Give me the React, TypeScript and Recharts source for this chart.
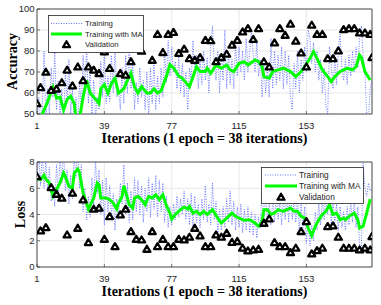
import React from 'react';
import { LineChart, Line, XAxis, YAxis, CartesianGrid, ReferenceArea } from 'recharts';

// ---------- axis ticks ----------
const xTicks = [1, 39, 77, 115, 153];
const accTicks = [50, 60, 70, 80, 90, 100];
const lossTicks = [0, 2, 4, 6, 8];

// ---------- accuracy ----------
const accTraining = [
  45, 58, 48, 52, 80, 46, 62, 50, 72, 58,
  80, 52, 66, 48, 62, 45, 70, 55, 76, 50,
  62, 45, 58, 44, 65, 52, 78, 60, 82, 55,
  72, 50, 66, 48, 58, 52, 75, 58, 82, 55,
  68, 56, 78, 60, 82, 58, 62, 52, 72, 55,
  78, 60, 84, 62, 75, 52, 65, 55, 72, 58,
  66, 52, 70, 48, 72, 55, 76, 52, 68, 55,
  72, 58, 80, 65, 85, 68, 82, 70, 75, 62,
  78, 60, 74, 58, 70, 52, 72, 66, 85, 70,
  78, 62, 76, 64, 80, 66, 77, 60, 82, 92,
  74, 66, 80, 60, 78, 66, 90, 62, 80, 64,
  76, 62, 85, 68, 82, 70, 80, 66, 86, 70,
  80, 90, 78, 70, 84, 68, 76, 58, 74, 60,
  72, 58, 86, 62, 80, 64, 78, 66, 82, 62,
  80, 64, 78, 58, 52, 74, 62, 80, 60, 76,
  66, 82, 70, 90, 86, 74, 84, 70, 80, 66,
  76, 60, 72, 54, 50, 82, 74, 62, 78, 64,
  80, 88, 72, 66, 76, 64, 78, 68, 80, 70,
  82, 72, 86, 92, 78, 70, 50, 48, 62, 66,
];
const accMaIter = [1, 4, 7, 10, 12, 14, 16, 18, 20, 22, 23, 25, 27, 29, 31, 34, 36, 37, 39, 41, 43, 45, 47, 50, 52, 54, 56, 58, 60, 63, 65, 67, 69, 71, 74, 76, 78, 81, 83, 86, 87, 91, 93, 96, 97, 99, 102, 105, 108, 110, 112, 115, 118, 120, 124, 126, 128, 129, 132, 134, 137, 140, 142, 144, 147, 150, 152, 155, 157, 159, 162, 165, 167, 169, 172, 174, 176, 179, 181, 183, 184, 186, 189];
const accMaValue = [47, 50, 55.9, 62.7, 57.5, 58, 52, 57, 58.5, 55, 48, 48, 58, 66, 60, 57, 55, 62, 64, 60, 64.5, 67, 60, 62, 66, 69.5, 63, 60, 63, 60, 60, 62, 60, 61, 68, 73.5, 72, 68, 67, 64, 63, 72.5, 70.2, 70.2, 71.8, 69.4, 73.3, 71.8, 73.3, 71, 70.2, 74.1, 74.9, 73.3, 75.7, 74.9, 72.5, 67.8, 67, 70.2, 71, 71.8, 71, 70.2, 67.8, 70.2, 72.5, 76.5, 79.7, 76.5, 71, 67.8, 65.4, 67.8, 70.2, 71, 71.8, 71, 72.5, 78.1, 77, 70.2, 66.2];

const valIter = [1, 3, 6, 9, 12, 15, 18, 21, 24, 27, 30, 33, 36, 39, 42, 45, 48, 51, 54, 57, 60, 63, 66, 69, 72, 75, 78, 81, 84, 87, 90, 93, 96, 99, 102, 105, 108, 111, 114, 117, 120, 123, 126, 129, 132, 135, 138, 141, 144, 147, 150, 153, 156, 159, 162, 165, 168, 171, 174, 177, 180, 183, 186, 189, 190];
const accValidation = [55, 62.7, 70, 61.4, 62, 65, 71, 63.5, 72.5, 66, 72.5, 71, 69.4, 79.7, 71.8, 86, 69.4, 68.6, 75, 88, 80, null, 75.7, 88, 79.4, 88, 89, 79, 81, 76.5, 75.7, 77, 85.2, 85, 75, 77, 78.6, 82.9, 85.2, 89.2, 90.8, 85.6, 90.8, 75, 72.5, 84, 90.8, 87.6, 92.9, 84.8, 79.2, 72.5, 92.4, 88, 88, 76.5, 76.5, 80.2, 90.3, 90.8, 90.8, 88.7, 88.7, 88, 77];

// ---------- loss ----------
const lossTraining = [
  7.0, 8.5, 6.2, 8.8, 6.0, 8.2, 5.8, 7.6, 5.0, 6.2,
  4.6, 7.8, 5.2, 8.5, 6.4, 9.0, 5.8, 7.4, 4.8, 7.0,
  5.2, 8.6, 6.8, 9.2, 6.0, 7.8, 4.2, 6.0, 3.6, 5.4,
  3.8, 6.8, 4.6, 8.2, 5.6, 7.4, 4.0, 6.6, 3.2, 6.8,
  4.2, 6.2, 3.8, 5.6, 2.8, 5.2, 3.6, 6.4, 4.8, 7.8,
  4.0, 6.4, 3.4, 5.8, 3.6, 6.8, 4.2, 6.6, 4.0, 6.2,
  3.4, 6.0, 4.2, 6.8, 3.8, 6.4, 4.4, 7.0, 3.8, 6.6,
  4.2, 6.4, 3.4, 5.4, 3.0, 4.6, 3.2, 4.8, 3.6, 5.4,
  3.8, 5.2, 4.0, 5.8, 3.6, 5.2, 3.2, 5.6, 3.0, 5.4,
  3.4, 4.8, 3.0, 5.2, 3.6, 6.2, 3.4, 4.8, 3.2, 6.4,
  3.6, 5.0, 2.6, 4.4, 2.8, 4.6, 3.0, 5.2, 3.4, 5.8,
  3.2, 5.0, 2.8, 4.6, 3.0, 4.8, 2.6, 4.4, 2.8, 4.6,
  2.6, 4.2, 2.4, 4.0, 2.2, 3.8, 3.0, 5.8, 3.6, 5.4,
  3.4, 5.0, 3.2, 5.2, 3.4, 5.6, 3.6, 5.0, 3.2, 5.4,
  3.6, 5.6, 3.4, 6.0, 3.6, 5.2, 3.4, 5.4, 2.6, 4.8,
  3.0, 4.6, 1.8, 3.6, 1.6, 3.2, 2.0, 4.2, 2.8, 4.8,
  3.2, 5.2, 3.6, 5.6, 4.0, 6.4, 3.2, 5.0, 3.4, 4.8,
  2.8, 4.6, 3.0, 4.2, 2.8, 4.6, 3.2, 5.0, 3.4, 5.2,
  3.0, 4.6, 1.6, 1.3, 7.9, 6.0, 5.4, 6.4, 5.8, 6.0,
];
const lossMaIter = [1, 3, 5, 6, 8, 10, 12, 14, 16, 17, 19, 21, 22, 24, 25, 27, 30, 33, 35, 36, 37, 40, 42, 44, 46, 47, 49, 50, 52, 53, 55, 56, 58, 60, 62, 64, 66, 68, 70, 72, 74, 76, 77, 79, 82, 84, 86, 87, 89, 91, 93, 95, 97, 100, 103, 105, 108, 111, 113, 115, 118, 121, 124, 126, 128, 129, 131, 133, 135, 137, 140, 142, 144, 146, 148, 150, 152, 154, 156, 158, 160, 162, 164, 166, 168, 170, 172, 174, 175, 177, 180, 182, 183, 185, 187, 189];
const lossMaValue = [6.7, 6.65, 7.0, 6.7, 6.4, 5.4, 5.9, 6.4, 7.16, 6.9, 6.15, 6.0, 7.16, 7.47, 7.16, 5.64, 4.42, 5.26, 6.4, 6.27, 5.26, 5.26, 5.13, 4.88, 4.42, 4.88, 5.38, 6.2, 5.26, 4.75, 4.5, 5.26, 5.38, 5.13, 4.75, 5.38, 5.26, 5.5, 5.13, 5.5, 4.67, 4.11, 3.66, 4.0, 4.37, 4.57, 4.42, 4.62, 4.11, 4.24, 4.0, 4.24, 4.0, 4.37, 3.73, 3.35, 3.73, 4.11, 3.86, 3.73, 3.56, 3.6, 3.35, 3.1, 3.48, 4.37, 4.37, 4.0, 4.11, 4.37, 4.24, 4.37, 4.5, 4.24, 4.24, 3.86, 3.73, 2.97, 2.39, 3.1, 3.6, 4.0, 4.24, 4.75, 4.0, 4.11, 3.6, 3.73, 3.6, 3.86, 4.11, 3.6, 2.97, 3.1, 4.11, 5.18];
const lossValidation = [6.9, 2.77, 3.02, 6.07, 5.56, 5.26, 2.46, 5.64, 2.97, 5.13, 1.88, 4.42, 4.5, 2.13, 3.86, 1.57, 3.99, 4.42, 2.72, 2.13, 2.08, 1.37, 2.72, 1.57, 2.13, 1.57, 1.57, 2.13, 2.08, 2.29, 2.97, 2.39, 1.57, 1.57, 2.46, 2.29, 2.59, 1.9, 1.96, 1.45, 1.24, 1.32, 1.37, 3.35, 3.68, 1.88, 1.57, 1.57, 1.12, 1.45, 2.72, 3.48, 1.02, 1.27, 1.45, 3.1, 3.15, 2.29, 1.45, 1.45, 1.45, 1.32, 1.45, 1.32, 2.34];

// ---------- table builder ----------
type Row = { x: number; train: number; ma: number | null; val: number | null };
function buildTable(training: number[], maIter: number[], maValue: number[], vIter: number[], vValue: (number | null)[]): Row[] {
  const rows: Row[] = training.map((t, i) => ({ x: i + 1, train: t, ma: null, val: null }));
  maIter.forEach((it, k) => { rows[it - 1].ma = maValue[k]; });
  vIter.forEach((it, k) => { rows[it - 1].val = vValue[k]; });
  return rows;
}
const accTable = buildTable(accTraining, accMaIter, accMaValue, valIter, accValidation);
const lossTable = buildTable(lossTraining, lossMaIter, lossMaValue, valIter, lossValidation);

const BLUE = '#3a4dff';
const GREEN = '#00ff00';
const AXIS = '#262626';
const SANS = '"Liberation Sans", Arial, sans-serif';
const SERIF = '"Liberation Serif", "Times New Roman", serif';

const Tri = (p: any) => {
  const { cx, cy, value, index } = p;
  if (value == null || cx == null || cy == null || Number.isNaN(cy)) return <g key={`t${index}`} />;
  const h = 3.2;
  return (
    <path
      key={`t${index}`}
      d={`M${cx},${cy - h} L${cx + h * 1.1},${cy + h * 0.85} L${cx - h * 1.1},${cy + h * 0.85} Z`}
      fill="#ffffff"
      stroke="#000"
      strokeWidth={2.3}
      strokeLinejoin="round"
    />
  );
};

const XTitle = (p: any) => {
  const vb = p.viewBox || { x: 0, y: 0, width: 0, height: 0 };
  return (
    <text x={vb.x + vb.width / 2} y={vb.y + 29} textAnchor="middle" fill="#000"
      style={{ fontFamily: SERIF, fontWeight: 'bold', fontSize: 14 }}>
      Iterations (1 epoch = 38 iterations)
    </text>
  );
};

const YTitle = (p: any) => {
  const vb = p.viewBox || { x: 0, y: 0, width: 0, height: 0 };
  const cx = vb.x + p.dx0;
  const cy = vb.y + vb.height / 2;
  return (
    <text x={cx} y={cy} transform={`rotate(-90 ${cx} ${cy})`} textAnchor="middle" dominantBaseline="central" fill="#000"
      style={{ fontFamily: SERIF, fontWeight: 'bold', fontSize: 14 }}>
      {p.text}
    </text>
  );
};

function LegendBox({ left, top, w, h, fs, rows, x1, x2, tx }: any) {
  return (
    <svg width={w} height={h} style={{ position: 'absolute', left, top, display: 'block' }}>
      <rect x={0.5} y={0.5} width={w - 1} height={h - 1} fill="#fff" stroke={AXIS} strokeWidth={0.8} />
      <line x1={x1} x2={x2} y1={rows[0]} y2={rows[0]} stroke={BLUE} strokeWidth={0.8} strokeDasharray="1 1.5" />
      <line x1={x1} x2={x2} y1={rows[1]} y2={rows[1]} stroke={GREEN} strokeWidth={3} />
      <Tri cx={(x1 + x2) / 2} cy={rows[2]} value={1} index={0} />
      {['Training', 'Training with MA', 'Validation'].map((t, i) => (
        <text key={t} x={tx} y={rows[i]} dominantBaseline="central" fill={AXIS} style={{ fontFamily: SANS, fontSize: fs }}>{t}</text>
      ))}
    </svg>
  );
}

function Panel({ top, height, marginTop, xAxisHeight, table, yDomain, yTicks, yLabel, yLabelDx }: any) {
  const tickStyle = { fill: AXIS, fontSize: 9.5, fontFamily: SANS };
  return (
    <div style={{ position: 'absolute', left: 0, top, width: 381, height }}>
      <LineChart width={381} height={height} data={table} margin={{ top: marginTop, right: 9, bottom: 0, left: 0 }}>
        <CartesianGrid stroke="#e2e2e2" strokeWidth={0.8} />
        <XAxis type="number" dataKey="x" domain={[1, 190]} ticks={xTicks} allowDataOverflow interval={0}
          height={xAxisHeight} tickSize={-3} tickMargin={11} tick={tickStyle} axisLine={false}
          tickLine={{ stroke: AXIS, strokeWidth: 0.6 }} label={<XTitle />} />
        <YAxis type="number" domain={yDomain} ticks={yTicks} allowDataOverflow interval={0} width={37}
          tickSize={-3} tickMargin={5.5} tick={tickStyle} axisLine={false}
          tickLine={{ stroke: AXIS, strokeWidth: 0.6 }} label={<YTitle text={yLabel} dx0={yLabelDx} />} />
        <Line type="linear" dataKey="train" stroke={BLUE} strokeWidth={0.75} strokeDasharray="1 1.5" dot={false} activeDot={false} isAnimationActive={false} connectNulls />
        <Line type="linear" dataKey="ma" stroke={GREEN} strokeWidth={3} dot={false} activeDot={false} isAnimationActive={false} connectNulls />
        <Line type="linear" dataKey="val" stroke="none" dot={<Tri />} activeDot={false} isAnimationActive={false} />
        <ReferenceArea x1={1} x2={190} y1={yDomain[0]} y2={yDomain[1]} fill="none" stroke={AXIS} strokeWidth={0.8} ifOverflow="visible" />
      </LineChart>
    </div>
  );
}

export default function App() {
  return (
    <div style={{ position: 'absolute', left: 0, top: 0, width: 381, height: 305, background: '#fff', overflow: 'hidden' }}>
      <Panel top={0} height={150} marginTop={9} xAxisHeight={36} table={accTable} yDomain={[50, 100]} yTicks={accTicks} yLabel="Accuracy" yLabelDx={12} />
      <Panel top={150} height={155} marginTop={12} xAxisHeight={38} table={lossTable} yDomain={[0, 8]} yTicks={lossTicks} yLabel="Loss" yLabelDx={20} />
      <LegendBox left={48} top={15} w={96} h={38} fs={7.8} rows={[8.5, 19, 29.5]} x1={3} x2={34} tx={37} />
      <LegendBox left={261} top={167} w={103} h={37} fs={8.3} rows={[8, 19, 30]} x1={4} x2={36} tx={38} />
    </div>
  );
}
